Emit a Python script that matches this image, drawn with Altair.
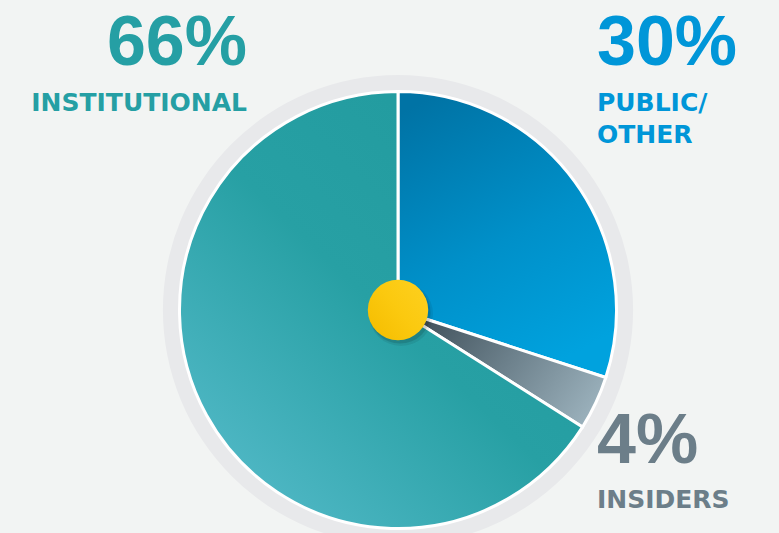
import altair as alt
import pandas as pd

categories = ["PUBLIC/OTHER", "INSIDERS", "INSTITUTIONAL"]
labels = ["PUBLIC/\nOTHER", "INSIDERS", "INSTITUTIONAL"]
values = [30, 4, 66]
order = [0, 1, 2]

df = pd.DataFrame({"cat": categories, "label": labels, "value": values, "idx": order})

CX, CY = 398, 310
W, H = 779, 533

base = alt.Chart(df).transform_window(
    end="sum(value)", sort=[alt.SortField("idx")], frame=[None, 0]
).transform_calculate(start="datum.end - datum.value")


def grad(stops, x1, y1, x2, y2):
    return alt.LinearGradient(
        gradient="linear",
        stops=[alt.GradientStop(color=c, offset=o) for o, c in stops],
        x1=x1, y1=y1, x2=x2, y2=y2,
    )


fills = {
    "PUBLIC/OTHER": grad([(0, "#0073a5"), (0.55, "#0090c9"), (1, "#00a2de")], 0.2, 0, 0.6, 1),
    "INSIDERS": grad([(0, "#3f4f59"), (0.5, "#6c808b"), (1, "#9ab0bb")], 0, 0.3, 1, 0.7),
    "INSTITUTIONAL": grad([(0, "#219a9e"), (0.5, "#27a0a4"), (1, "#52b9c7")], 0.9, 0.1, 0.15, 0.95),
}

ring_df = pd.DataFrame({"k": [0]})
ring = alt.Chart(ring_df).mark_arc(innerRadius=219, outerRadius=235, fill="#e8e9eb").encode(
    theta=alt.value(0), theta2=alt.value(6.2832), x=alt.value(CX), y=alt.value(CY)
)

slices = []
for cat in categories:
    slices.append(
        base.transform_filter(alt.datum.cat == cat)
        .mark_arc(outerRadius=218.5, fill=fills[cat], stroke="white", strokeWidth=3)
        .encode(
            theta=alt.Theta("start:Q", scale=alt.Scale(domain=[0, 100])),
            theta2="end:Q",
            x=alt.value(CX),
            y=alt.value(CY),
        )
    )

shadow1 = alt.Chart(ring_df).mark_circle(size=4100, color="#000000", opacity=0.07).encode(
    x=alt.value(CX + 3), y=alt.value(CY + 4)
)
shadow2 = alt.Chart(ring_df).mark_circle(size=3750, color="#000000", opacity=0.12).encode(
    x=alt.value(CX + 2), y=alt.value(CY + 3)
)
yellow = alt.Chart(ring_df).mark_circle(
    size=3650, opacity=1,
    fill=grad([(0, "#f5bd00"), (0.5, "#fbc90f"), (1, "#fdd01f")], 0, 0.9, 1, 0.1),
).encode(x=alt.value(CX), y=alt.value(CY))

colors = {"PUBLIC/OTHER": "#0096d8", "INSIDERS": "#6c7e89", "INSTITUTIONAL": "#259fa4"}
pos = {
    "INSTITUTIONAL": (247, 65, 111, "right"),
    "PUBLIC/OTHER": (597, 65, 111, "left"),
    "INSIDERS": (597, 463, 508, "left"),
}

texts = []
for cat in categories:
    x, ynum, ylab, al = pos[cat]
    sub = alt.Chart(df).transform_filter(alt.datum.cat == cat).transform_calculate(
        pct="datum.value + '%'"
    )
    texts.append(
        sub.mark_text(
            font="Liberation Sans", fontWeight="bold", fontSize=70, align=al,
            baseline="alphabetic", color=colors[cat],
        ).encode(text="pct:N", x=alt.value(x), y=alt.value(ynum))
    )
    texts.append(
        sub.mark_text(
            font="DejaVu Sans", fontWeight="bold", fontSize=25, align=al,
            baseline="alphabetic", color=colors[cat], lineBreak="\n", lineHeight=32,
        ).encode(text="label:N", x=alt.value(x), y=alt.value(ylab))
    )

chart = alt.layer(ring, *slices, shadow1, shadow2, yellow, *texts).properties(
    width=W, height=H, padding=0, autosize=alt.AutoSizeParams(type="none"),
    background="#f2f4f3",
).configure_view(stroke=None)

chart.save("out.html", embed_options={"renderer": "svg", "actions": False})
